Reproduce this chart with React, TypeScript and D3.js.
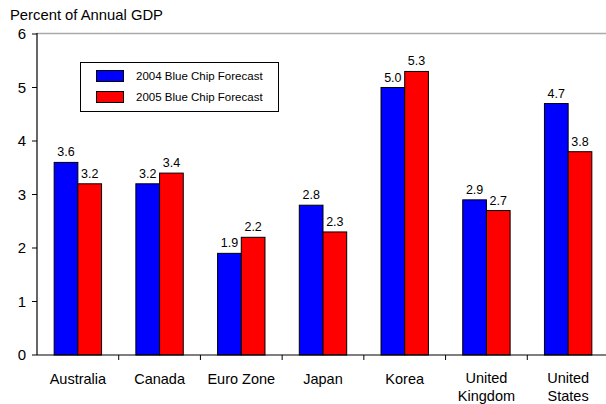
import React, { useEffect, useRef } from 'react';
import * as d3 from 'd3';

const categories = ['Australia', 'Canada', 'Euro Zone', 'Japan', 'Korea', 'United\nKingdom', 'United\nStates'];
const forecast2004 = [3.6, 3.2, 1.9, 2.8, 5.0, 2.9, 4.7];
const forecast2005 = [3.2, 3.4, 2.2, 2.3, 5.3, 2.7, 3.8];
const seriesNames = ['2004 Blue Chip Forecast', '2005 Blue Chip Forecast'];
const seriesColors = ['#0000ff', '#ff0000'];
const yTicks = [0, 1, 2, 3, 4, 5, 6];

export default function App() {
  const svgRef = useRef<SVGSVGElement>(null);

  useEffect(() => {
    if (!svgRef.current) return;
    const svg = d3.select(svgRef.current);
    svg.selectAll('*').remove();

    const left = 37;
    const right = 609;
    const top = 34;
    const bottom = 355;
    const font = 'Liberation Sans, Arial, sans-serif';

    const x = d3.scaleBand<string>().domain(categories).range([left, right]).paddingInner(0.42).paddingOuter(0.21);
    const inner = d3.scaleBand<number>().domain([0, 1]).range([0, x.bandwidth()]);
    const y = d3.scaleLinear().domain([0, 6]).range([bottom, top]);

    // top border
    svg.append('line')
      .attr('x1', left).attr('x2', 606).attr('y1', top - 0.5).attr('y2', top - 0.5)
      .attr('stroke', '#aaaaaa').attr('stroke-width', 1.5);

    const series = [forecast2004, forecast2005];
    series.forEach((vals, s) => {
      svg.append('g').selectAll('rect')
        .data(vals)
        .enter()
        .append('rect')
        .attr('x', (d, i) => (x(categories[i]) as number) + (inner(s) as number))
        .attr('y', d => y(d))
        .attr('width', inner.bandwidth())
        .attr('height', d => y(0) - y(d))
        .attr('fill', seriesColors[s])
        .attr('stroke', '#000')
        .attr('stroke-width', 1);

      svg.append('g').selectAll('text')
        .data(vals)
        .enter()
        .append('text')
        .attr('x', (d, i) => (x(categories[i]) as number) + (inner(s) as number) + inner.bandwidth() / 2)
        .attr('y', d => y(d) - 6)
        .attr('text-anchor', 'middle')
        .attr('font-family', font)
        .attr('font-size', 12.5)
        .attr('fill', '#000')
        .text(d => d.toFixed(1));
    });

    // y axis
    svg.append('line')
      .attr('x1', left).attr('x2', left).attr('y1', top - 1).attr('y2', bottom)
      .attr('stroke', '#000').attr('stroke-width', 1.2);
    yTicks.forEach(t => {
      svg.append('line')
        .attr('x1', left - 5).attr('x2', left).attr('y1', y(t)).attr('y2', y(t))
        .attr('stroke', '#000');
      svg.append('text')
        .attr('x', left - 11).attr('y', y(t) + 5)
        .attr('text-anchor', 'end')
        .attr('font-family', font).attr('font-size', 15)
        .text(t);
    });

    // x axis
    svg.append('line')
      .attr('x1', left).attr('x2', 606).attr('y1', bottom).attr('y2', bottom)
      .attr('stroke', '#000').attr('stroke-width', 1.2);
    const step = x.step();
    categories.forEach((c, i) => {
      const xs = left + step * (i + 1);
      svg.append('line')
        .attr('x1', xs).attr('x2', xs).attr('y1', bottom).attr('y2', bottom + 5)
        .attr('stroke', '#000');
      const lines = c.split('\n');
      const cx = (x(c) as number) + x.bandwidth() / 2;
      const t = svg.append('text')
        .attr('text-anchor', 'middle')
        .attr('font-family', font).attr('font-size', 14.5);
      lines.forEach((ln, k) => {
        t.append('tspan')
          .attr('x', cx)
          .attr('y', (lines.length === 1 ? 384 : 383) + k * 18)
          .text(ln);
      });
    });

    // title
    svg.append('text')
      .attr('x', 10).attr('y', 20)
      .attr('font-family', font).attr('font-size', 14.8)
      .text('Percent of Annual GDP');

    // legend
    const lg = svg.append('g');
    lg.append('rect')
      .attr('x', 80.5).attr('y', 62.5).attr('width', 198).attr('height', 49)
      .attr('fill', '#fff').attr('stroke', '#000');
    seriesNames.forEach((name, k) => {
      lg.append('rect')
        .attr('x', 96.5).attr('y', 70.5 + k * 21).attr('width', 27).attr('height', 11)
        .attr('fill', seriesColors[k]).attr('stroke', '#000');
      lg.append('text')
        .attr('x', 136).attr('y', 80 + k * 21)
        .attr('font-family', font).attr('font-size', 11.5)
        .text(name);
    });
  }, []);

  return (
    <svg ref={svgRef} width={606} height={404} style={{ position: 'absolute', left: 0, top: 0, background: '#fff' }} />
  );
}
